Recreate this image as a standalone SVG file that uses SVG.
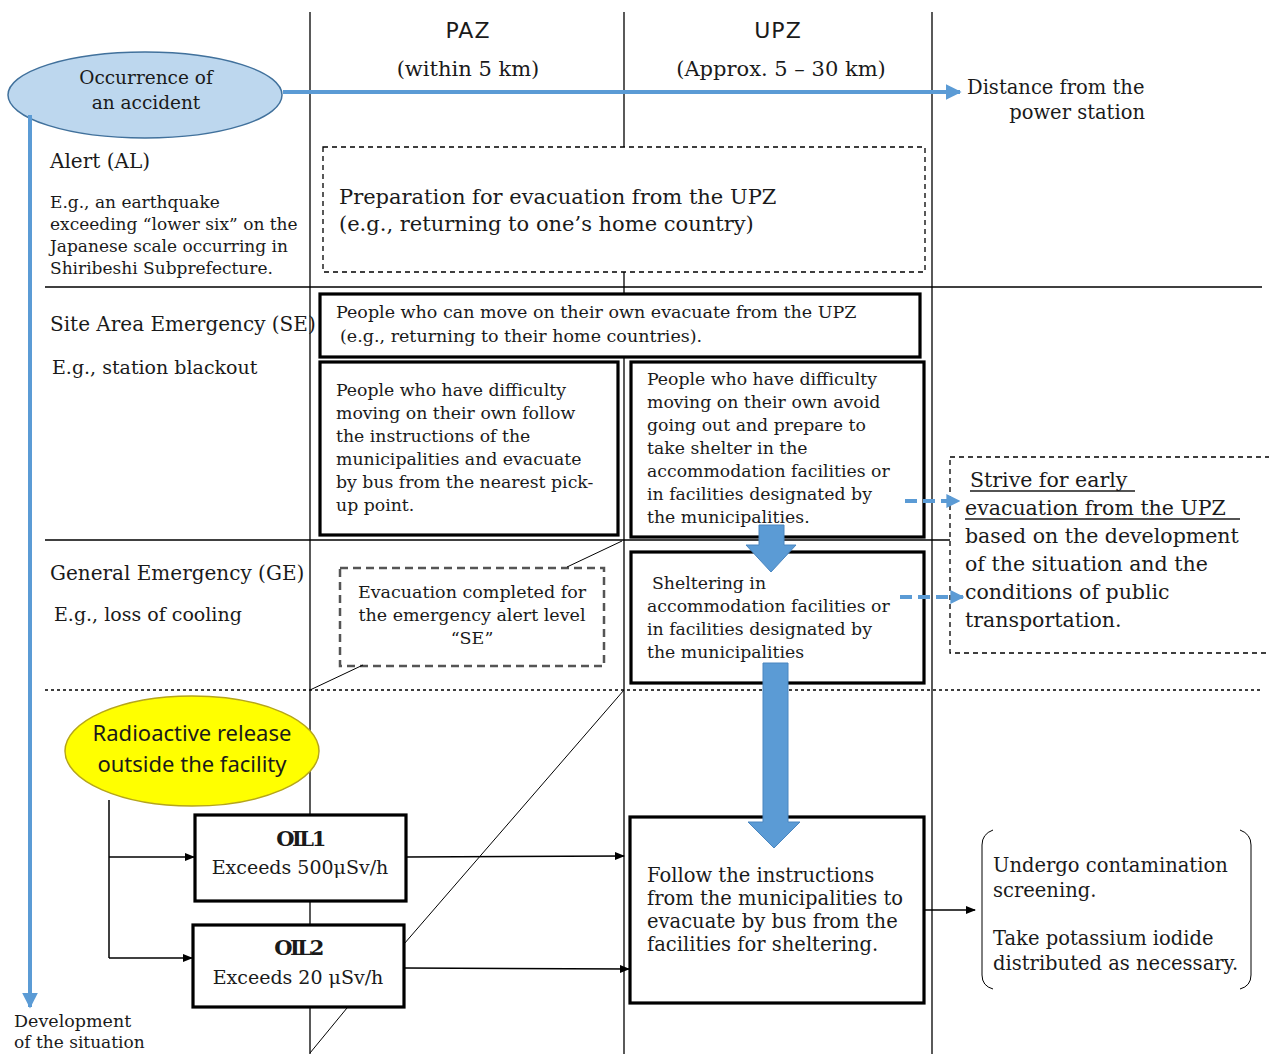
<svg xmlns="http://www.w3.org/2000/svg" width="1269" height="1054" viewBox="0 0 1269 1054">
<defs>
<style>
.s{font-family:"DejaVu Serif","Liberation Serif",serif;fill:#1a1a1a}
.sans{font-family:"DejaVu Sans","Liberation Sans",sans-serif;fill:#1a1a1a}
.grid{stroke:#000;stroke-width:1.3;fill:none}
.thin{stroke:#000;stroke-width:1;fill:none}
.box{fill:#fff;stroke:#000;stroke-width:3.2}
.dbox{fill:#fff;stroke:#000;stroke-width:1.3;stroke-dasharray:5 4}
.blue{stroke:#5b9bd5;stroke-width:4;fill:none}
.bdash{stroke:#5b9bd5;stroke-width:4;fill:none;stroke-dasharray:12 6}
.conn{stroke:#000;stroke-width:1.5;fill:none}
.bigarrow{fill:#5b9bd5;stroke:#4a86c0;stroke-width:1}
</style>
<marker id="ab" viewBox="0 0 10 10" refX="9" refY="5" markerWidth="4" markerHeight="4" orient="auto" markerUnits="strokeWidth"><path d="M0,0 L10,5 L0,10 z" fill="#5b9bd5"/></marker>
<marker id="abd" viewBox="0 0 10 10" refX="9" refY="5" markerWidth="3.5" markerHeight="3.5" orient="auto" markerUnits="strokeWidth"><path d="M0,0 L10,5 L0,10 z" fill="#5b9bd5"/></marker>
<marker id="ak" viewBox="0 0 10 10" refX="9" refY="5" markerWidth="7" markerHeight="7" orient="auto" markerUnits="strokeWidth"><path d="M0,1 L10,5 L0,9 z" fill="#000"/></marker>
</defs>
<rect width="1269" height="1054" fill="#fff"/>

<g id="grid">
<line class="grid" x1="310" y1="12" x2="310" y2="1054"/>
<line class="grid" x1="624" y1="12" x2="624" y2="1054"/>
<line class="grid" x1="932" y1="12" x2="932" y2="1054"/>
<line class="grid" x1="45" y1="287" x2="1262" y2="287"/>
<line class="grid" x1="45" y1="540" x2="951" y2="540"/>
<line x1="45" y1="690" x2="1262" y2="690" stroke="#000" stroke-width="1.3" stroke-dasharray="3 3"/>
</g>

<g id="headers">
<text class="sans" x="468" y="38" font-size="22" text-anchor="middle" letter-spacing="1">PAZ</text>
<text class="s" x="468" y="76" font-size="21" text-anchor="middle">(within 5 km)</text>
<text class="sans" x="778" y="38" font-size="22" text-anchor="middle" letter-spacing="1">UPZ</text>
<text class="s" x="781" y="76" font-size="21" text-anchor="middle">(Approx. 5 – 30 km)</text>
<text class="s" x="967" y="94" font-size="19.5">Distance from the</text>
<text class="s" x="1145" y="119" font-size="19.5" text-anchor="end">power station</text>
<text class="s" x="14" y="1027" font-size="17.5">Development</text>
<text class="s" x="14" y="1048" font-size="17">of the situation</text>
</g>

<g id="row-labels">
<text class="s" x="50" y="168" font-size="20">Alert (AL)</text>
<text class="s" font-size="17"><tspan x="50" y="208">E.g., an earthquake</tspan><tspan x="50" y="230">exceeding “lower six” on the</tspan><tspan x="50" y="252">Japanese scale occurring in</tspan><tspan x="50" y="274">Shiribeshi Subprefecture.</tspan></text>
<text class="s" x="50" y="331" font-size="20">Site Area Emergency (SE)</text>
<text class="s" x="52" y="374" font-size="19">E.g., station blackout</text>
<text class="s" x="50" y="580" font-size="20">General Emergency (GE)</text>
<text class="s" x="54" y="621" font-size="19">E.g., loss of cooling</text>
</g>

<g id="accident">
<ellipse cx="145" cy="95" rx="137" ry="43" fill="#bdd7ee" stroke="#41719c" stroke-width="1.5"/>
<text class="s" font-size="18.5" text-anchor="middle"><tspan x="146" y="84">Occurrence of</tspan><tspan x="146" y="109">an accident</tspan></text>
</g>

<g id="preparation">
<rect class="dbox" x="323" y="147" width="602" height="125"/>
<text class="s" font-size="21"><tspan x="339" y="204">Preparation for evacuation from the UPZ</tspan><tspan x="339" y="231">(e.g., returning to one’s home country)</tspan></text>
</g>

<g id="se-move">
<rect class="box" x="320" y="294" width="600" height="63"/>
<text class="s" font-size="17.5"><tspan x="336" y="318">People who can move on their own evacuate from the UPZ</tspan><tspan x="340" y="342">(e.g., returning to their home countries).</tspan></text>
</g>

<g id="se-paz">
<rect class="box" x="320" y="362" width="298" height="173"/>
<text class="s" font-size="17.3"><tspan x="336" y="396">People who have difficulty</tspan><tspan x="336" y="419">moving on their own follow</tspan><tspan x="336" y="442">the instructions of the</tspan><tspan x="336" y="465">municipalities and evacuate</tspan><tspan x="336" y="488">by bus from the nearest pick-</tspan><tspan x="336" y="511">up point.</tspan></text>
</g>

<g id="se-upz">
<rect class="box" x="631" y="362" width="293" height="175"/>
<text class="s" font-size="17.3"><tspan x="647" y="385">People who have difficulty</tspan><tspan x="647" y="408">moving on their own avoid</tspan><tspan x="647" y="431">going out and prepare to</tspan><tspan x="647" y="454">take shelter in the</tspan><tspan x="647" y="477">accommodation facilities or</tspan><tspan x="647" y="500">in facilities designated by</tspan><tspan x="647" y="523">the municipalities.</tspan></text>
</g>

<g id="sheltering">
<rect class="box" x="631" y="552" width="293" height="131"/>
<text class="s" font-size="17.3"><tspan x="652" y="589">Sheltering in</tspan><tspan x="647" y="612">accommodation facilities or</tspan><tspan x="647" y="635">in facilities designated by</tspan><tspan x="647" y="658">the municipalities</tspan></text>
</g>

<g id="se-completed">
<rect x="340" y="568" width="264" height="98" fill="#fff" stroke="#555" stroke-width="2.5" stroke-dasharray="8 5"/>
<text class="s" font-size="17.5" text-anchor="middle"><tspan x="472" y="598">Evacuation completed for</tspan><tspan x="472" y="621">the emergency alert level</tspan><tspan x="472" y="644">“SE”</tspan></text>
</g>

<g id="strive">
<rect class="dbox" x="950" y="457" width="330" height="196"/>
<text class="s" font-size="20.5"><tspan x="970" y="487">Strive for early</tspan><tspan x="965" y="515">evacuation from the UPZ</tspan><tspan x="965" y="543">based on the development</tspan><tspan x="965" y="571">of the situation and the</tspan><tspan x="965" y="599">conditions of public</tspan><tspan x="965" y="627">transportation.</tspan></text>
<line x1="970" y1="491" x2="1135" y2="491" stroke="#1a1a1a" stroke-width="1.3"/>
<line x1="965" y1="519" x2="1240" y2="519" stroke="#1a1a1a" stroke-width="1.3"/>
</g>

<g id="release">
<ellipse cx="192" cy="751" rx="127" ry="55" fill="#ffff00" stroke="#b5a51b" stroke-width="1.5"/>
<text font-family="'Noto Sans','Open Sans',sans-serif" font-size="22" fill="#1a1a1a" text-anchor="middle"><tspan x="192" y="741">Radioactive release</tspan><tspan x="192" y="772">outside the facility</tspan></text>
</g>

<g id="oil1">
<rect class="box" x="195" y="815" width="211" height="86"/>
<text class="s" font-size="21" font-weight="bold" text-anchor="middle" x="300" y="846" letter-spacing="-2.5">OIL1</text>
<text class="s" font-size="19" text-anchor="middle" x="300" y="874">Exceeds 500μSv/h</text>
</g>

<g id="oil2">
<rect class="box" x="193" y="925" width="211" height="82"/>
<text class="s" font-size="21" font-weight="bold" text-anchor="middle" x="298" y="955" letter-spacing="-2.5">OIL2</text>
<text class="s" font-size="19" text-anchor="middle" x="298" y="984">Exceeds 20 μSv/h</text>
</g>

<g id="follow">
<rect class="box" x="630" y="817" width="294" height="186"/>
<text class="s" font-size="19.5"><tspan x="647" y="882">Follow the instructions</tspan><tspan x="647" y="905">from the municipalities to</tspan><tspan x="647" y="928">evacuate by bus from the</tspan><tspan x="647" y="951">facilities for sheltering.</tspan></text>
</g>

<g id="screening">
<path d="M993,830 Q982,834 982,845 V975 Q982,986 993,989" class="thin" stroke-width="1.3"/>
<path d="M1240,830 Q1251,834 1251,845 V975 Q1251,986 1240,989" class="thin" stroke-width="1.3"/>
<text class="s" font-size="19.5"><tspan x="993" y="872">Undergo contamination</tspan><tspan x="993" y="897">screening.</tspan><tspan x="993" y="945">Take potassium iodide</tspan><tspan x="993" y="970">distributed as necessary.</tspan></text>
</g>

<g id="connectors">
<line class="blue" x1="283" y1="92" x2="960" y2="92" marker-end="url(#ab)"/>
<line class="blue" x1="30" y1="115" x2="30" y2="1007" marker-end="url(#ab)"/>
<line class="thin" x1="567" y1="567" x2="622" y2="541"/>
<line class="thin" x1="363" y1="665" x2="310" y2="690"/>
<line class="thin" x1="624" y1="690" x2="404" y2="944"/>
<line class="thin" x1="347" y1="1008" x2="310" y2="1053"/>
<line class="bdash" x1="905" y1="501" x2="959" y2="501" marker-end="url(#abd)"/>
<line class="bdash" x1="900" y1="597" x2="963" y2="597" marker-end="url(#abd)"/>
<polyline class="conn" points="109,800 109,958"/>
<line class="conn" x1="109" y1="857" x2="194" y2="857" marker-end="url(#ak)"/>
<line class="conn" x1="109" y1="958" x2="192" y2="958" marker-end="url(#ak)"/>
<line class="conn" x1="406" y1="857" x2="624" y2="856" marker-end="url(#ak)"/>
<line class="conn" x1="404" y1="968" x2="629" y2="969" marker-end="url(#ak)"/>
<line class="conn" x1="924" y1="910" x2="975" y2="910" marker-end="url(#ak)"/>
<path class="bigarrow" d="M759,525 H784 V545 H796 L771,572 L746,545 H759 Z"/>
<path class="bigarrow" d="M763,663 H788 V822 H800 L774,848 L748,822 H763 Z"/>
</g>
</svg>
